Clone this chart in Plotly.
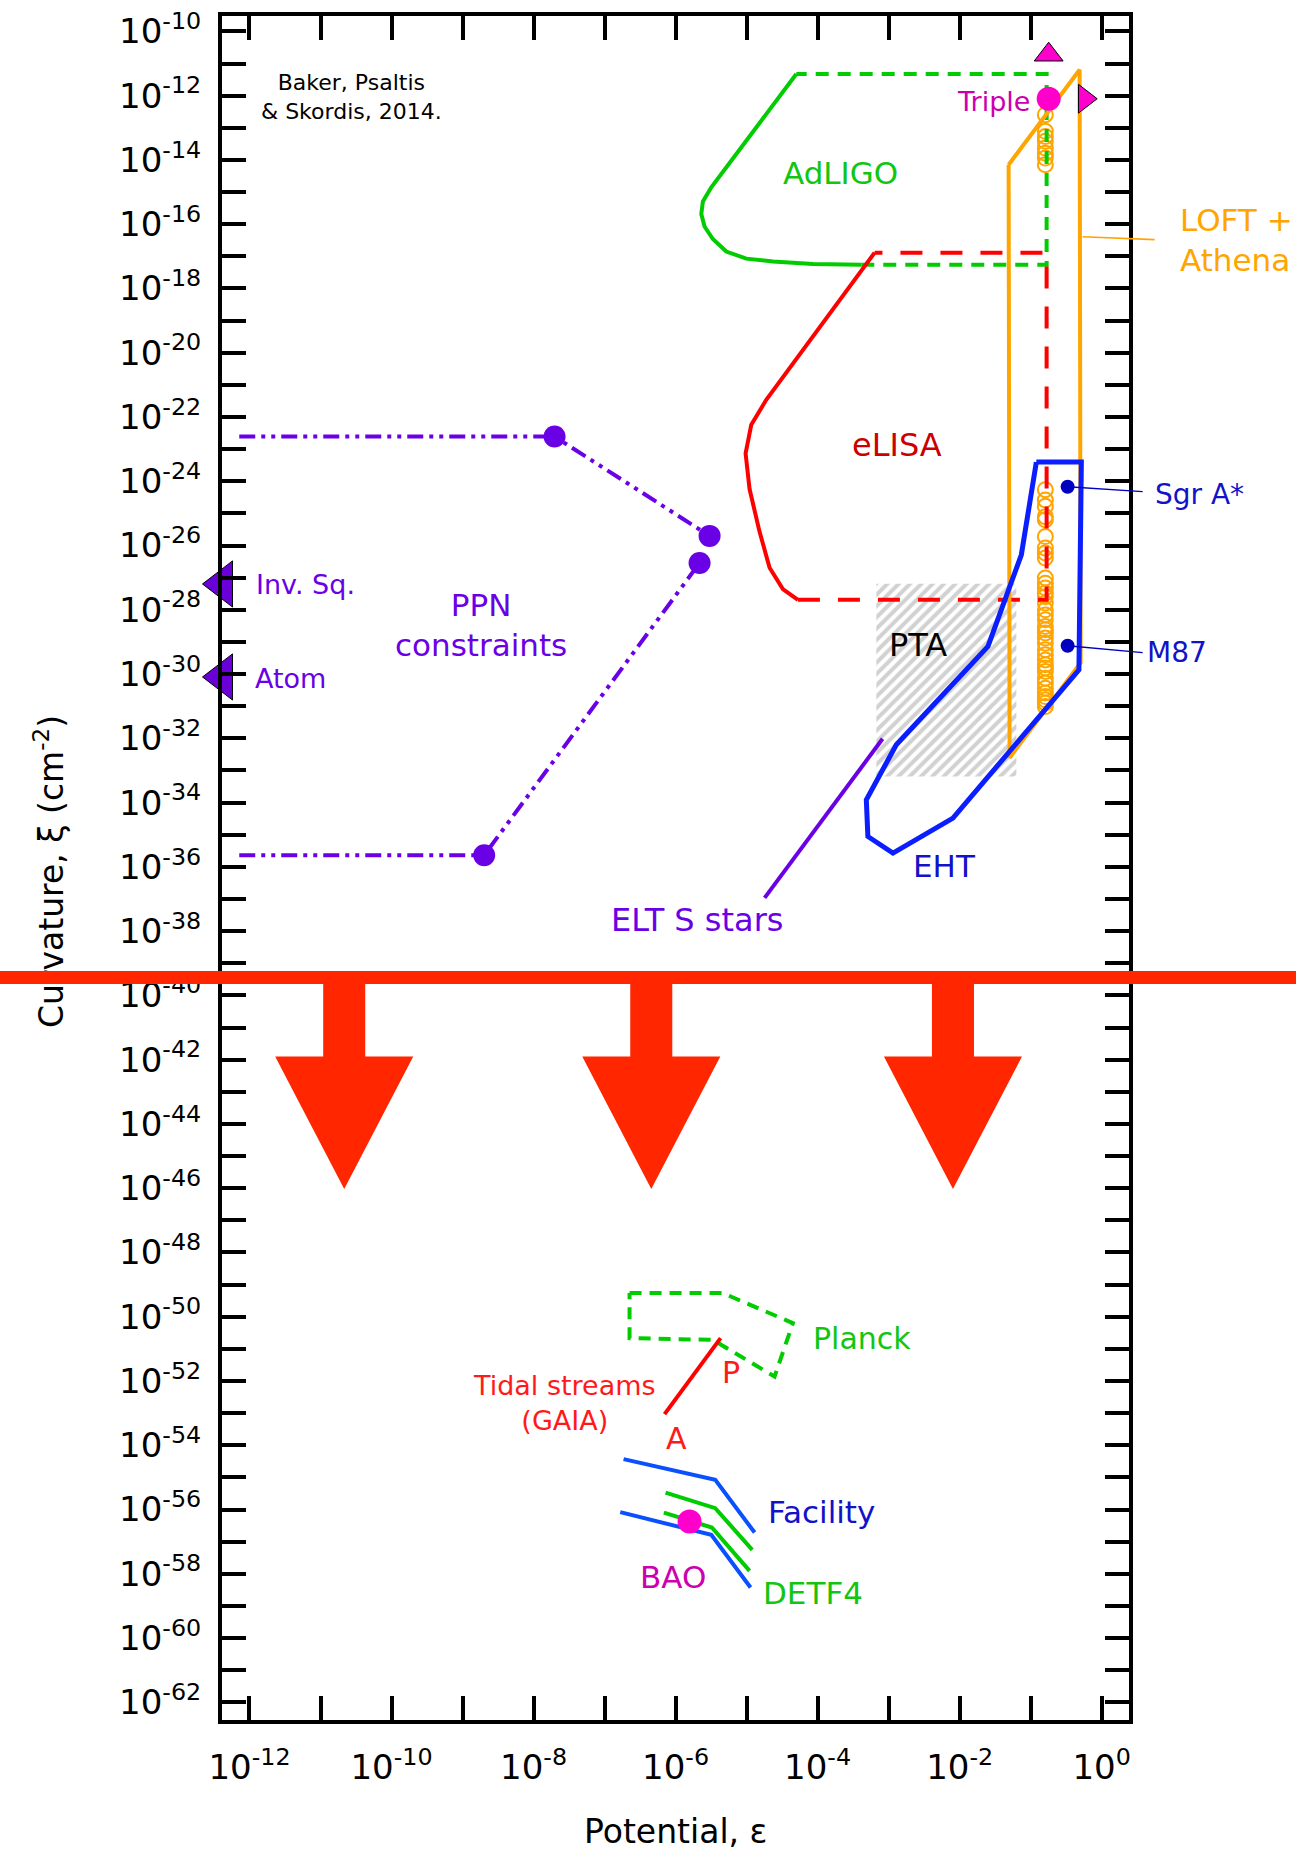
import plotly.graph_objects as go

FONT = "DejaVu Sans"

# ---------------- data: log10(potential), log10(curvature) ----------------
adligo_curve_lx = [-4.300, -5.497, -5.615, -5.638, -5.592, -5.475, -5.286, -5.004, -4.630, -4.066, -3.385]
adligo_curve_ly = [-11.326, -14.849, -15.294, -15.683, -16.072, -16.461, -16.850, -17.071, -17.162, -17.239, -17.261]
adligo_box_lx = [-3.385, -0.775, -0.775, -4.300]
adligo_box_ly = [-17.261, -17.261, -11.326, -11.326]

elisa_curve_lx = [-3.197, -3.690, -4.254, -4.723, -4.934, -5.014, -4.958, -4.817, -4.676, -4.489, -4.277]
elisa_curve_ly = [-16.885, -18.351, -20.019, -21.463, -22.241, -23.131, -24.242, -25.574, -26.689, -27.355, -27.688]
elisa_box_lx = [-4.277, -0.775, -0.775, -3.197]
elisa_box_ly = [-27.688, -27.688, -16.885, -16.885]

loft_lx = [-1.310, -0.310, -0.296, -1.296, -1.310]
loft_ly = [-14.149, -11.192, -29.648, -32.605, -14.149]

eht_lx = [-0.920, -0.286, -0.320, -2.094, -2.939, -3.292, -3.314, -2.892, -1.601, -1.131, -0.920]
eht_ly = [-23.402, -23.402, -29.866, -34.482, -35.571, -35.054, -33.912, -32.200, -29.141, -26.287, -23.402]

pta_lx = [-3.173, -1.201, -1.201, -3.173, -3.173]
pta_ly = [-27.190, -27.190, -33.187, -33.187, -27.190]

elt_lx = [-4.746, -3.085]
elt_ly = [-36.963, -32.014]

ppn_upper_lx = [-12.144, -7.704, -5.521]
ppn_upper_ly = [-22.608, -22.608, -25.699]
ppn_lower_lx = [-12.144, -8.695, -5.662]
ppn_lower_ly = [-35.636, -35.636, -26.542]
ppn_dots_lx = [-7.704, -5.521, -5.662, -8.695]
ppn_dots_ly = [-22.608, -25.699, -26.542, -35.636]

solar_names = ["Inv. Sq.", "Atom"]
solar_lx = [-12.38, -12.38]
solar_ly = [-27.196, -30.090]

compact_lx = -0.793
compact_ly = [-12.59, -13.11, -13.27, -13.42, -13.63, -13.79, -13.94, -14.15,
              -24.26, -24.58, -24.78, -25.10, -25.20, -25.72, -26.08, -26.23, -26.39,
              -27.01, -27.17, -27.32, -27.48, -27.59, -27.79, -28.00, -28.16, -28.31,
              -28.52, -28.62, -28.72, -28.88, -29.04, -29.24, -29.40, -29.56, -29.71,
              -29.81, -29.92, -30.13, -30.28, -30.44, -30.59, -30.70, -30.80, -30.90, -31.01]

triple_lx, triple_ly = -0.746, -12.095
triple_up_lx, triple_up_ly = -0.746, -10.725
triple_right_lx, triple_right_ly = -0.239, -12.095

bh_names = ["Sgr A*", "M87"]
bh_lx = [-0.479, -0.479]
bh_ly = [-24.171, -29.119]

planck_lx = [-6.648, -5.334, -4.348, -4.606, -5.475, -6.648, -6.648]
planck_ly = [-49.265, -49.265, -50.199, -51.861, -50.719, -50.666, -49.265]

tidal_lx = [-6.155, -5.366]
tidal_ly = [-53.03, -50.666]

facility_upper_lx = [-6.732, -5.441, -4.887]
facility_upper_ly = [-54.432, -55.076, -56.716]
facility_lower_lx = [-6.779, -5.497, -4.944]
facility_lower_ly = [-56.081, -56.788, -58.428]
detf4_upper_lx = [-6.141, -5.441, -4.920]
detf4_upper_ly = [-55.472, -55.958, -57.256]
detf4_lower_lx = [-6.165, -5.489, -4.958]
detf4_lower_ly = [-56.094, -56.561, -57.908]
bao_lx, bao_ly = -5.803, -56.374

cutoff_ly = -39.452
arrow_centers_lx = [-10.666, -6.342, -2.094]

x_exps = list(range(-12, 1))
y_exps = list(range(-62, -9))


def P(v):
    return [10.0 ** a for a in v]


GREEN = "#00cc00"
RED = "#ff0000"
ORANGE = "#ffa500"
BLUE = "#0a1eff"
BLUE2 = "#0a50ff"
BLUE_TXT = "#1212c8"
PURPLE = "#6a00e6"
MAGENTA = "#ff00cc"
MAGENTA_TXT = "#cc00b0"
ARROW_RED = "#ff2600"

fig = go.Figure()


def line(lx, ly, color, width=4, dash="solid"):
    fig.add_trace(go.Scatter(x=P(lx), y=P(ly), mode="lines",
                             line=dict(color=color, width=width, dash=dash),
                             hoverinfo="skip", showlegend=False))


# PTA hatched box
fig.add_trace(go.Scatter(x=P(pta_lx), y=P(pta_ly), mode="lines", fill="toself",
                         fillcolor="rgba(255,255,255,0)",
                         fillpattern=dict(shape="/", fgcolor="#a4a4a4", bgcolor="rgba(255,255,255,0)",
                                          size=8, solidity=0.5),
                         line=dict(width=0), hoverinfo="skip", showlegend=False))

# red cut-off arrows
shaft_hw, head_hw = 0.296, 0.972
head_top, tip = -41.902, -46.028
for cx in arrow_centers_lx:
    ax_ = [cx - shaft_hw, cx - shaft_hw, cx - head_hw, cx, cx + head_hw, cx + shaft_hw, cx + shaft_hw, cx - shaft_hw]
    ay_ = [cutoff_ly, head_top, head_top, tip, head_top, head_top, cutoff_ly, cutoff_ly]
    fig.add_trace(go.Scatter(x=P(ax_), y=P(ay_), mode="lines", fill="toself",
                             fillcolor=ARROW_RED, line=dict(width=0, color=ARROW_RED),
                             hoverinfo="skip", showlegend=False))

# compact objects (open circles)
fig.add_trace(go.Scatter(x=[10 ** compact_lx] * len(compact_ly), y=P(compact_ly), mode="markers",
                         marker=dict(symbol="circle-open", size=15, color=ORANGE, line=dict(width=2)),
                         hoverinfo="skip", showlegend=False))

# AdLIGO
line(adligo_curve_lx, adligo_curve_ly, GREEN)
line(adligo_box_lx, adligo_box_ly, GREEN, dash="13px,9px")
# eLISA
line(elisa_curve_lx, elisa_curve_ly, RED)
line(elisa_box_lx, elisa_box_ly, RED, dash="22px,18px")
# LOFT + Athena
line(loft_lx, loft_ly, ORANGE)
# EHT
line(eht_lx, eht_ly, BLUE, width=5)
# ELT S stars
line(elt_lx, elt_ly, PURPLE)
# PPN
ppn_dash = "16px,6px,4px,6px,4px,6px"
line(ppn_upper_lx, ppn_upper_ly, PURPLE, dash=ppn_dash)
line(ppn_lower_lx, ppn_lower_ly, PURPLE, dash=ppn_dash)
fig.add_trace(go.Scatter(x=P(ppn_dots_lx), y=P(ppn_dots_ly), mode="markers",
                         marker=dict(size=22, color=PURPLE), hoverinfo="skip", showlegend=False))
# Inverse square / atom interferometry
fig.add_trace(go.Scatter(x=P(solar_lx), y=P(solar_ly), mode="markers", cliponaxis=False,
                         marker=dict(symbol="triangle-left", size=40, color="#6a00d8",
                                     line=dict(color="black", width=1)),
                         hoverinfo="skip", showlegend=False))
# Triple system
fig.add_trace(go.Scatter(x=[10 ** triple_lx], y=[10 ** triple_ly], mode="markers",
                         marker=dict(size=24, color=MAGENTA), hoverinfo="skip", showlegend=False))
fig.add_trace(go.Scatter(x=[10 ** triple_up_lx], y=[10 ** triple_up_ly], mode="markers",
                         marker=dict(symbol="triangle-up", size=25, color=MAGENTA,
                                     line=dict(color="black", width=1)),
                         hoverinfo="skip", showlegend=False))
fig.add_trace(go.Scatter(x=[10 ** triple_right_lx], y=[10 ** triple_right_ly], mode="markers",
                         marker=dict(symbol="triangle-right", size=25, color=MAGENTA,
                                     line=dict(color="black", width=1)),
                         hoverinfo="skip", showlegend=False))
# Sgr A*, M87
fig.add_trace(go.Scatter(x=P(bh_lx), y=P(bh_ly), mode="markers",
                         marker=dict(size=14, color="#0000c0"), hoverinfo="skip", showlegend=False))

# cosmology region
line(planck_lx, planck_ly, GREEN, dash="12px,8px")
line(tidal_lx, tidal_ly, RED)
line(facility_upper_lx, facility_upper_ly, BLUE2)
line(facility_lower_lx, facility_lower_ly, BLUE2)
line(detf4_upper_lx, detf4_upper_ly, GREEN)
line(detf4_lower_lx, detf4_lower_ly, GREEN)
fig.add_trace(go.Scatter(x=[10 ** bao_lx], y=[10 ** bao_ly], mode="markers",
                         marker=dict(size=24, color=MAGENTA), hoverinfo="skip", showlegend=False))

anns = []


def label(text, lx, ly, color, size, xanchor="center", align="center", xref="x"):
    anns.append(dict(text=text, x=lx, y=ly, xref=xref, yref="y", showarrow=False,
                     xanchor=xanchor, yanchor="middle", align=align,
                     font=dict(family=FONT, size=size, color=color)))


def leader(lx, ly, dx, dy, color, width):
    anns.append(dict(text=" ", x=lx, y=ly, xref="x", yref="y", ax=dx, ay=dy,
                     showarrow=True, arrowhead=0, arrowwidth=width, arrowcolor=color,
                     standoff=0, startstandoff=0, font=dict(size=2)))


label("Baker, Psaltis<br>& Skordis, 2014.", -10.56, -12.05, "black", 22)
label("AdLIGO", -3.673, -14.42, "#11c611", 31)
label("eLISA", -2.875, -22.876, "#cc0000", 32)
# labels right of the frame use paper x (plot area spans 222..1129 px)
label("LOFT +<br>Athena", 1.054, -16.48, ORANGE, 31, xanchor="left", align="left", xref="paper")
leader(-0.268, -16.390, 74, 3, ORANGE, 1.6)
label("Triple", -0.986, -12.19, MAGENTA_TXT, 27, xanchor="right")
label("Sgr A*", 1.0265, -24.42, BLUE_TXT, 28, xanchor="left", xref="paper")
leader(bh_lx[0], bh_ly[0], 77, 5, "#0000c0", 1.4)
label("M87", 1.0176, -29.34, BLUE_TXT, 28, xanchor="left", xref="paper")
leader(bh_lx[1], bh_ly[1], 77, 7, "#0000c0", 1.4)
label("PTA", -2.592, -29.09, "black", 32)
label("EHT", -2.210, -35.966, BLUE_TXT, 31)
label("ELT S stars", -5.690, -37.65, PURPLE, 32)
label("PPN<br>constraints", -8.746, -28.48, PURPLE, 31)
label("Inv. Sq.", -11.93, -27.2, PURPLE, 27, xanchor="left")
label("Atom", -11.95, -30.146, PURPLE, 27, xanchor="left")
label("Planck", -4.089, -50.666, "#11c611", 30, xanchor="left")
label("Tidal streams<br>(GAIA)", -7.56, -52.67, "#ff1a1a", 27)
label("P", -5.215, -51.75, "#ff1a1a", 30)
label("A", -5.99, -53.78, "#ff1a1a", 30)
label("Facility", -4.723, -56.063, BLUE_TXT, 31, xanchor="left")
label("DETF4", -4.793, -58.603, "#11c611", 31, xanchor="left")
label("BAO", -6.038, -58.086, MAGENTA_TXT, 31)

# axis titles
anns.append(dict(text="Curvature, ξ (cm<sup>-2</sup>)", xref="paper", yref="paper", x=-0.19, y=0.498,
                 textangle=-90, showarrow=False, xanchor="center", yanchor="middle",
                 font=dict(family=FONT, size=33, color="black")))
anns.append(dict(text="Potential, ε", xref="paper", yref="paper", x=0.5, y=-0.0657,
                 showarrow=False, xanchor="center", yanchor="middle",
                 font=dict(family=FONT, size=33, color="black")))
# red cut-off band across the whole figure
anns.append(dict(text=" ", xref="paper", yref="y", x=-0.246, y=cutoff_ly, xanchor="left",
                 yanchor="middle", width=1310, height=13, bgcolor=ARROW_RED, borderpad=0,
                 borderwidth=0, showarrow=False, font=dict(size=1)))


def ticklabel(e, show):
    return f"10<sup>{e}</sup>" if show else ""


fig.update_layout(
    width=1296, height=1852,
    margin=dict(l=222, r=167, t=16, b=132, autoexpand=False),
    paper_bgcolor="white", plot_bgcolor="white",
    showlegend=False,
    annotations=anns,
    xaxis=dict(type="log", range=[-12.387, 0.385], showgrid=False, zeroline=False,
               tickvals=[10.0 ** e for e in x_exps],
               ticktext=[ticklabel(e, e % 2 == 0) for e in x_exps],
               ticks="inside", ticklen=24, tickwidth=4, tickcolor="black",
               showline=True, linewidth=4, linecolor="black", mirror="allticks",
               ticklabelstandoff=14,
               tickfont=dict(family=FONT, size=34, color="black")),
    yaxis=dict(type="log", range=[-62.55, -9.52], showgrid=False, zeroline=False,
               tickvals=[10.0 ** e for e in y_exps],
               ticktext=[ticklabel(e, e % 2 == 0) for e in y_exps],
               ticks="inside", ticklen=24, tickwidth=4, tickcolor="black",
               showline=True, linewidth=4, linecolor="black", mirror="allticks",
               ticklabelstandoff=10,
               tickfont=dict(family=FONT, size=34, color="black")),
)

fig.write_html("out.html")
